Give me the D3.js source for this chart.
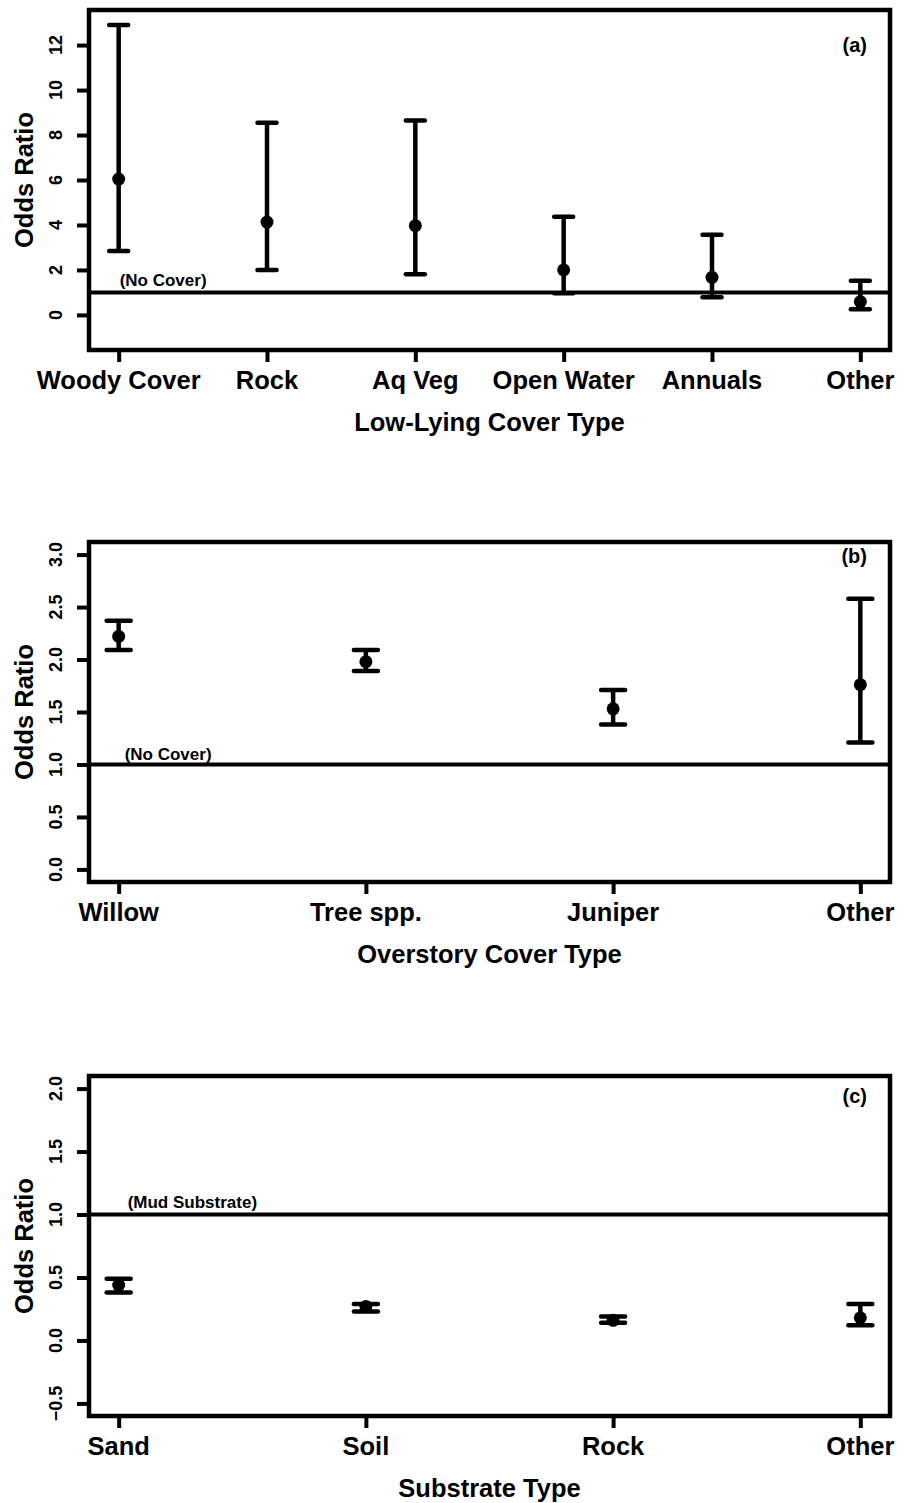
<!DOCTYPE html>
<html>
<head>
<meta charset="utf-8">
<script src="https://cdn.jsdelivr.net/npm/d3@7"></script>
<style>
  html, body { margin: 0; padding: 0; background: #fff; }
  svg { display: block; }
  text { font-family: "Liberation Sans", Arial, Helvetica, sans-serif; font-weight: bold; fill: #000; }
</style>
</head>
<body>
<script>
// ---------- DATA ----------
const catsA = ["Woody Cover", "Rock", "Aq Veg", "Open Water", "Annuals", "Other"];
const oddsA = [6.04, 4.13, 3.97, 2.0, 1.67, 0.59];
const lowerA = [2.84, 2.0, 1.81, 0.96, 0.79, 0.25];
const upperA = [12.89, 8.55, 8.65, 4.37, 3.56, 1.52];
const ticksA = [0, 2, 4, 6, 8, 10, 12];
const ylimA = [-1, 13];

const catsB = ["Willow", "Tree spp.", "Juniper", "Other"];
const oddsB = [2.22, 1.98, 1.53, 1.76];
const lowerB = [2.09, 1.89, 1.38, 1.21];
const upperB = [2.37, 2.09, 1.71, 2.58];
const ticksB = [0, 0.5, 1.0, 1.5, 2.0, 2.5, 3.0];
const ylimB = [0, 3];

const catsC = ["Sand", "Soil", "Rock", "Other"];
const oddsC = [0.44, 0.27, 0.16, 0.18];
const lowerC = [0.38, 0.23, 0.14, 0.12];
const upperC = [0.49, 0.29, 0.19, 0.29];
const ticksC = [-0.5, 0, 0.5, 1.0, 1.5, 2.0];
const ylimC = [-0.5, 2];

const xTitles = ["Low-Lying Cover Type", "Overstory Cover Type", "Substrate Type"];
const refLabels = ["(No Cover)", "(No Cover)", "(Mud Substrate)"];
const panelLabels = ["(a)", "(b)", "(c)"];
const yTitle = "Odds Ratio";
const refValue = 1;

// ---------- LAYOUT ----------
const W = 909, H = 1503;
const svg = d3.select("body").append("svg").attr("width", W).attr("height", H);

const boxLeft = 89, boxRight = 890, boxH = 340;
const panels = [
  { top: 10, cats: catsA, odds: oddsA, lo: lowerA, hi: upperA, ticks: ticksA, ylim: ylimA,
    fmt: d3.format("d"), capW: 19, labBase: 52, refDx: 1, refDy: -6 },
  { top: 542, cats: catsB, odds: oddsB, lo: lowerB, hi: upperB, ticks: ticksB, ylim: ylimB,
    fmt: d3.format(".1f"), capW: 24, labBase: 563, refDx: 6, refDy: -4 },
  { top: 1076, cats: catsC, odds: oddsC, lo: lowerC, hi: upperC, ticks: ticksC, ylim: ylimC,
    fmt: d => d3.format(".1f")(d).replace("-", "\u2212"), capW: 24, labBase: 1103, refDx: 9, refDy: -7 }
];

panels.forEach((p, i) => {
  const n = p.cats.length;
  const xpad = 0.04 * (n - 1);
  const x = d3.scaleLinear().domain([1 - xpad, n + xpad]).range([boxLeft, boxRight]);
  const ypad = 0.04 * (p.ylim[1] - p.ylim[0]);
  const bottom = p.top + boxH;
  const y = d3.scaleLinear().domain([p.ylim[0] - ypad, p.ylim[1] + ypad]).range([bottom, p.top]);
  const g = svg.append("g");

  // reference line
  g.append("line")
    .attr("x1", boxLeft).attr("x2", boxRight)
    .attr("y1", y(refValue)).attr("y2", y(refValue))
    .attr("stroke", "#000").attr("stroke-width", 4);
  g.append("text")
    .attr("x", x(1) + p.refDx).attr("y", y(refValue) + p.refDy)
    .attr("font-size", 17).text(refLabels[i]);

  // box
  g.append("rect")
    .attr("x", boxLeft).attr("y", p.top)
    .attr("width", boxRight - boxLeft).attr("height", boxH)
    .attr("fill", "none").attr("stroke", "#000").attr("stroke-width", 4.5);

  // y axis ticks
  const yAxis = d3.axisLeft(y).tickValues(p.ticks).tickSize(12).tickFormat("");
  const ya = g.append("g").attr("transform", `translate(${boxLeft},0)`).call(yAxis);
  ya.select(".domain").remove();
  ya.selectAll(".tick line").attr("stroke", "#000").attr("stroke-width", 4);
  g.selectAll(".ytl").data(p.ticks).enter().append("text")
    .attr("transform", d => `translate(62,${y(d)}) rotate(-90)`)
    .attr("text-anchor", "middle").attr("font-size", 18)
    .text(d => p.fmt(d));

  // x axis ticks
  const xAxis = d3.axisBottom(x).tickValues(d3.range(1, n + 1)).tickSize(12).tickFormat("");
  const xa = g.append("g").attr("transform", `translate(0,${bottom})`).call(xAxis);
  xa.select(".domain").remove();
  xa.selectAll(".tick line").attr("stroke", "#000").attr("stroke-width", 4);
  g.selectAll(".xtl").data(p.cats).enter().append("text")
    .attr("x", (d, j) => x(j + 1)).attr("y", bottom + 39)
    .attr("text-anchor", "middle").attr("font-size", 25.5)
    .text(d => d);

  // titles
  g.append("text")
    .attr("x", (boxLeft + boxRight) / 2).attr("y", bottom + 81)
    .attr("text-anchor", "middle").attr("font-size", 25.5)
    .text(xTitles[i]);
  g.append("text")
    .attr("transform", `translate(33,${p.top + boxH / 2}) rotate(-90)`)
    .attr("text-anchor", "middle").attr("font-size", 25.5)
    .text(yTitle);
  g.append("text")
    .attr("x", 867).attr("y", p.labBase)
    .attr("text-anchor", "end").attr("font-size", 20)
    .text(panelLabels[i]);

  // error bars
  const idx = d3.range(n);
  g.selectAll(".eb").data(idx).enter().append("line")
    .attr("x1", j => x(j + 1)).attr("x2", j => x(j + 1))
    .attr("y1", j => y(p.lo[j])).attr("y2", j => y(p.hi[j]))
    .attr("stroke", "#000").attr("stroke-width", 4.5);
  ["lo", "hi"].forEach(k => {
    g.selectAll(".cap" + k).data(idx).enter().append("line")
      .attr("x1", j => x(j + 1) - p.capW / 2).attr("x2", j => x(j + 1) + p.capW / 2)
      .attr("y1", j => y(p[k][j])).attr("y2", j => y(p[k][j]))
      .attr("stroke", "#000").attr("stroke-width", 4.5).attr("stroke-linecap", "round");
  });
  g.selectAll(".pt").data(idx).enter().append("circle")
    .attr("cx", j => x(j + 1)).attr("cy", j => y(p.odds[j]))
    .attr("r", 6.5).attr("fill", "#000");
});
</script>
</body>
</html>
